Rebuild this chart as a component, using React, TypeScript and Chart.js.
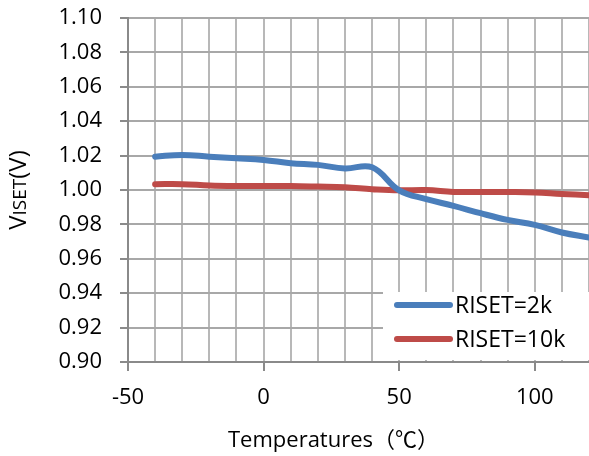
import React, { useEffect, useRef } from "react";
import { Chart, registerables } from "chart.js";

Chart.register(...registerables);

const temperatures = [-40, -30, -20, -10, 0, 10, 20, 30, 40, 50, 60, 70, 80, 90, 100, 110, 120];
const riset2k = [1.0194, 1.0204, 1.0194, 1.0185, 1.0175, 1.0156, 1.0146, 1.0125, 1.0132, 0.9998, 0.9947, 0.9908, 0.9865, 0.9826, 0.9797, 0.9753, 0.9724];
const riset10k = [1.0034, 1.0034, 1.0026, 1.0023, 1.0023, 1.0023, 1.002, 1.0016, 1.0005, 0.9998, 1.0, 0.9989, 0.9988, 0.9988, 0.9986, 0.9977, 0.997];
const seriesLabels = ["RISET=2k", "RISET=10k"];
const seriesColors = ["#4a7ebb", "#be4b48"];
const xLabelTicks = [-50, 0, 50, 100];
const xTitle = "Temperatures（℃）";

const FONT = "'Open Sans', 'Noto Sans CJK SC', sans-serif";

const customPlugin = {
  id: "customDecor",
  afterDraw(chart: any) {
    const ctx = chart.ctx as CanvasRenderingContext2D;
    const area = chart.chartArea;
    ctx.save();
    // Legend box inside chart area (bottom right)
    const bx = area.right - 206;
    const by = area.bottom - 70;
    ctx.fillStyle = "#ffffff";
    ctx.fillRect(bx, by, 206, 68);
    chart.data.datasets.forEach((ds: any, i: number) => {
      const cy = by + 13 + i * 34;
      ctx.strokeStyle = ds.borderColor;
      ctx.lineWidth = 6;
      ctx.lineCap = "round";
      ctx.beginPath();
      ctx.moveTo(bx + 14, cy);
      ctx.lineTo(bx + 67, cy);
      ctx.stroke();
      ctx.fillStyle = "#000";
      ctx.font = `23px ${FONT}`;
      ctx.textAlign = "left";
      ctx.textBaseline = "middle";
      ctx.fillText(ds.label, bx + 72, cy + 1);
    });
    // Y axis title with mixed sizes, rotated
    ctx.translate(19, (area.top + area.bottom) / 2);
    ctx.rotate(-Math.PI / 2);
    ctx.fillStyle = "#000";
    ctx.textBaseline = "middle";
    ctx.textAlign = "left";
    const parts: [string, number][] = [["V", 24], ["ISET", 19], ["(V)", 24]];
    let total = 0;
    parts.forEach(([t, s]) => {
      ctx.font = `${s}px ${FONT}`;
      total += ctx.measureText(t).width;
    });
    let x = -total / 2;
    parts.forEach(([t, s]) => {
      ctx.font = `${s}px ${FONT}`;
      ctx.fillText(t, x, s === 24 ? 0 : 1.5);
      x += ctx.measureText(t).width;
    });
    ctx.restore();
    // X axis title
    ctx.save();
    ctx.fillStyle = "#000";
    ctx.font = `22px ${FONT}`;
    ctx.textAlign = "left";
    ctx.textBaseline = "middle";
    ctx.fillText(xTitle, area.left + 100, 441);
    ctx.restore();
  },
};

export default function App() {
  const ref = useRef<HTMLCanvasElement>(null);
  useEffect(() => {
    if (!ref.current) return;
    const chart = new Chart(ref.current, {
      type: "line",
      data: {
        datasets: [
          {
            label: seriesLabels[0],
            data: temperatures.map((t, i) => ({ x: t, y: riset2k[i] })),
            borderColor: seriesColors[0],
            backgroundColor: seriesColors[0],
            borderWidth: 6,
            pointRadius: 0,
            tension: 0.4,
            borderCapStyle: "round",
          },
          {
            label: seriesLabels[1],
            data: temperatures.map((t, i) => ({ x: t, y: riset10k[i] })),
            borderColor: seriesColors[1],
            backgroundColor: seriesColors[1],
            borderWidth: 6,
            pointRadius: 0,
            tension: 0.4,
            borderCapStyle: "round",
          },
        ],
      },
      options: {
        animation: false,
        responsive: false,
        maintainAspectRatio: false,
        layout: { padding: { top: 18, right: 0, left: 0, bottom: 0 } },
        plugins: { legend: { display: false }, tooltip: { enabled: false } },
        scales: {
          x: {
            type: "linear",
            min: -50,
            max: 120,
            afterFit: (s: any) => { s.height = 94; s.paddingLeft = 0; s.paddingRight = 0; },
            ticks: {
              stepSize: 10,
              autoSkip: false,
              maxRotation: 0,
              padding: 14,
              color: "#000",
              font: { family: FONT, size: 22 },
              callback: (v: any) => (xLabelTicks.includes(Number(v)) ? String(v) : ""),
            },
            grid: {
              color: "#b8b8b8",
              lineWidth: 2,
              tickLength: 9,
              tickColor: (c: any) => (c.tick && xLabelTicks.includes(c.tick.value) ? "#8a8a8a" : "rgba(0,0,0,0)"),
            },
            border: { color: "#8a8a8a", width: 2 },
          },
          y: {
            min: 0.9,
            max: 1.1,
            afterFit: (s: any) => { s.width = 128; s.paddingTop = 0; s.paddingBottom = 0; },
            ticks: {
              stepSize: 0.02,
              padding: 18,
              color: "#000",
              font: { family: FONT, size: 22 },
              callback: (v: any) => Number(v).toFixed(2),
            },
            grid: {
              color: "#a8a8a8",
              lineWidth: 2,
              tickLength: 8,
              tickColor: "#8a8a8a",
            },
            border: { color: "#8a8a8a", width: 2 },
          },
        },
      },
      plugins: [customPlugin],
    });
    return () => chart.destroy();
  }, []);
  return (
    <div style={{ position: "fixed", left: 0, top: 0, width: 589, height: 456, background: "#fff" }}>
      <canvas ref={ref} width={589} height={456} style={{ width: 589, height: 456 }} />
    </div>
  );
}
